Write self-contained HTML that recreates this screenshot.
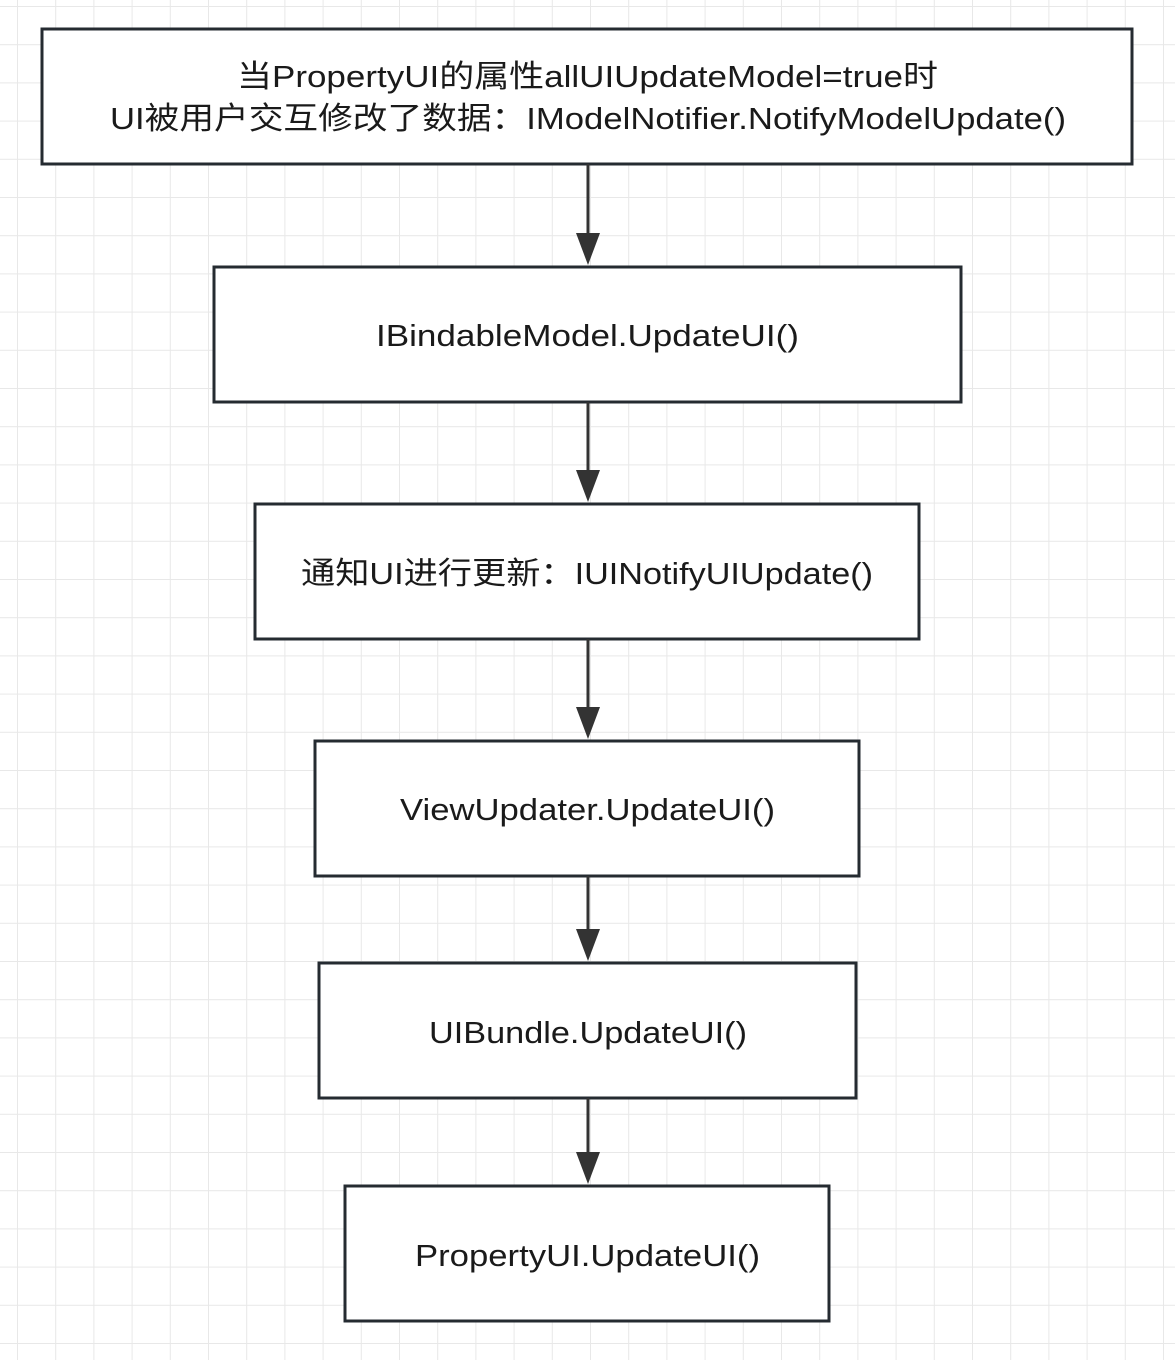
<!DOCTYPE html>
<html><head><meta charset="utf-8"><style>
html,body{margin:0;padding:0;background:#fff;}
svg{display:block}
text{font-family:"Liberation Sans","Noto Sans CJK SC",sans-serif;font-size:31px;fill:#1a1a1a;text-anchor:middle;}
</style></head><body>
<svg width="1175" height="1360" viewBox="0 0 1175 1360">
<defs>
<pattern id="g" x="17" y="6" width="38.2" height="38.2" patternUnits="userSpaceOnUse">
<path d="M0 0V38.2M0 0H38.2" stroke="#e8e8e8" stroke-width="2" fill="none"/>
</pattern>
</defs>
<rect width="1175" height="1360" fill="url(#g)"/>
<g fill="#fff" stroke="#252b31" stroke-width="3">
<rect x="42" y="29" width="1090" height="135"/>
<rect x="214" y="267" width="747" height="135"/>
<rect x="255" y="504" width="664" height="135"/>
<rect x="315" y="741" width="544" height="135"/>
<rect x="319" y="963" width="537" height="135"/>
<rect x="345" y="1186" width="484" height="135"/>
</g>
<g stroke="#333" stroke-width="3">
<line x1="588" y1="164" x2="588" y2="240"/>
<line x1="588" y1="402" x2="588" y2="478"/>
<line x1="588" y1="639" x2="588" y2="715"/>
<line x1="588" y1="876" x2="588" y2="937"/>
<line x1="588" y1="1098" x2="588" y2="1160"/>
</g>
<g fill="#333">
<polygon points="576,233 600,233 588,265"/>
<polygon points="576,470 600,470 588,502"/>
<polygon points="576,707 600,707 588,739"/>
<polygon points="576,929 600,929 588,961"/>
<polygon points="576,1152 600,1152 588,1184"/>
</g>
<text x="587.5" y="87" textLength="701" lengthAdjust="spacingAndGlyphs">当PropertyUI的属性allUIUpdateModel=true时</text>
<text x="588" y="129" textLength="956" lengthAdjust="spacingAndGlyphs">UI被用户交互修改了数据：IModelNotifier.NotifyModelUpdate()</text>
<text x="587.5" y="346" textLength="423" lengthAdjust="spacingAndGlyphs">IBindableModel.UpdateUI()</text>
<text x="587" y="584" textLength="572" lengthAdjust="spacingAndGlyphs">通知UI进行更新：IUINotifyUIUpdate()</text>
<text x="587.5" y="820" textLength="375" lengthAdjust="spacingAndGlyphs">ViewUpdater.UpdateUI()</text>
<text x="588" y="1043" textLength="318" lengthAdjust="spacingAndGlyphs">UIBundle.UpdateUI()</text>
<text x="587.5" y="1266" textLength="345" lengthAdjust="spacingAndGlyphs">PropertyUI.UpdateUI()</text>
</svg>
</body></html>
